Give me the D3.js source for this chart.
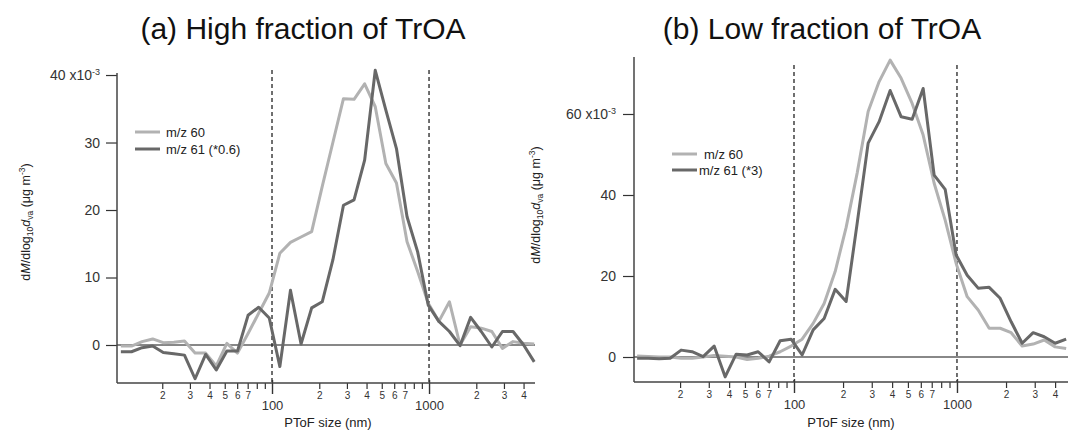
<!DOCTYPE html>
<html><head><meta charset="utf-8">
<script src="https://cdn.jsdelivr.net/npm/d3@7/dist/d3.min.js"></script>
<style>
body{margin:0;background:#fff;}
svg{display:block;font-family:"Liberation Sans",Arial,Helvetica,sans-serif;}
</style>
</head><body>
<svg id="chart" width="1068" height="432"></svg>
<script>
// ---- data ----
const sizes = [10.90,12.74,14.88,17.38,20.30,23.71,27.70,32.36,37.80,44.16,
  51.58,60.26,70.39,82.22,96.05,112.2,131.1,153.1,178.9,208.9,
  244.1,285.1,333.0,389.0,454.5,530.9,620.2,724.4,846.3,988.5,
  1155,1349,1576,1841,2150,2512,2934,3428,4004,4677];

const panelA_mz60 = [-0.15,-0.15,0.5,0.9,0.35,0.4,0.6,-1.2,-1.2,-3.1,
  0.25,-1.2,1.7,4.7,7.7,13.6,15.2,16.0,16.8,23.5,
  30.0,36.5,36.4,38.7,35.3,26.9,24.0,15.3,10.9,6.2,
  3.5,6.4,0,2.7,2.5,2.0,-0.5,0.5,0.25,0.15];
const panelA_mz61 = [-1.0,-1.0,-0.4,-0.15,-1.1,-1.3,-1.5,-5.0,-1.4,-3.7,
  -0.9,-0.9,4.4,5.6,4.0,-3.2,8.1,0.15,5.5,6.4,
  12.6,20.7,21.5,27.4,40.7,34.8,29.1,19.0,13.8,5.9,
  3.5,2.0,-0.1,4.1,2.0,-0.3,2.0,2.0,0,-2.5];
const panelB_mz60 = [0.25,0.1,0,0,-0.3,-0.3,0,0.4,0.2,0,
  -0.6,-0.3,0.2,1.3,2.7,4.4,8.3,13.2,21.1,32.0,
  45.4,60.6,68.0,73.3,68.8,62.6,54.8,42.9,33.8,23.1,
  14.9,11.6,7.1,7.1,6.0,2.7,3.2,4.2,2.5,2.1];
const panelB_mz61 = [-0.3,-0.3,-0.4,-0.3,1.7,1.3,0.1,2.7,-4.9,0.7,
  0.5,1.3,-1.2,4.0,4.4,0.5,6.7,9.5,16.7,13.7,
  33.0,52.8,58.1,65.8,59.3,58.7,66.3,44.9,41.4,25.2,
  20.2,17.0,17.2,14.5,8.7,3.4,6.0,5.0,3.4,4.4];

const minorTicks = [20,30,40,50,60,70,80,90,200,300,400,500,600,700,800,900,2000,3000,4000];
const minorTickLabels = ["2","3","4","5","6","7","","","2","3","4","5","6","7","","","2","3","4"];
const majorTicks = [100,1000];
const majorTickLabels = ["100","1000"];
const dashedAt = [100,1000];

const yTicksA = [0,10,20,30,40];
const yTicksB = [0,20,40,60];

const titles = ["(a) High fraction of TrOA","(b) Low fraction of TrOA"];
const legendA = ["m/z 60","m/z 61 (*0.6)"];
const legendB = ["m/z 60","m/z 61 (*3)"];
const xAxisTitle = "PToF size (nm)";

// ---- styles ----
const colLight = "#b2b2b2", colDark = "#686868";

const svg = d3.select("#chart");

function drawPanel(c) {
  const g = svg.append("g");
  const x = d3.scaleLog().domain(c.xDomain).range(c.xRange);
  const y = d3.scaleLinear().domain(c.yDomain).range(c.yRange);
  const x0 = c.xRange[0], x1 = c.xRange[1];
  const yb = c.yRange[0], yt = c.yRange[1];

  // dashed verticals
  g.selectAll("line.dash").data(dashedAt).join("line")
    .attr("x1", d => x(d)).attr("x2", d => x(d))
    .attr("y1", c.dashTop).attr("y2", yb)
    .attr("stroke", "#333").attr("stroke-width", 1.4)
    .attr("stroke-dasharray", "4,3");

  // zero line
  g.append("line").attr("x1", x0).attr("x2", x1)
    .attr("y1", y(0)).attr("y2", y(0))
    .attr("stroke", c.zeroColor).attr("stroke-width", c.zeroWidth);

  // lines
  const line = d3.line().x((d, i) => x(sizes[i])).y(d => y(d));
  g.append("path").datum(c.s60).attr("d", line)
    .attr("fill", "none").attr("stroke", colLight).attr("stroke-width", 3)
    .attr("stroke-linejoin", "round");
  g.append("path").datum(c.s61).attr("d", line)
    .attr("fill", "none").attr("stroke", colDark).attr("stroke-width", 3)
    .attr("stroke-linejoin", "round");

  // x axis minor
  const axMinor = d3.axisBottom(x).tickValues(minorTicks).tickSize(6).tickPadding(3)
    .tickFormat((d, i) => minorTickLabels[i]);
  const gm = g.append("g").attr("transform", `translate(0,${yb})`).call(axMinor);
  gm.select(".domain").remove();
  gm.selectAll("line").attr("stroke", "#333").attr("stroke-width", 1.2);
  gm.selectAll("text").attr("font-size", 10).attr("fill", "#333")
    .attr("font-family", "Liberation Sans, Arial, sans-serif");

  const axMajor = d3.axisBottom(x).tickValues(majorTicks).tickSize(11).tickPadding(7)
    .tickFormat((d, i) => majorTickLabels[i]);
  const gM = g.append("g").attr("transform", `translate(0,${yb})`).call(axMajor);
  gM.select(".domain").remove();
  gM.selectAll("line").attr("stroke", "#333").attr("stroke-width", 1.4).attr("y1", -3);
  gM.selectAll("text").attr("font-size", 13).attr("fill", "#333")
    .attr("font-family", "Liberation Sans, Arial, sans-serif");

  // y axis
  const ay = d3.axisLeft(y).tickValues(c.yTicks).tickSize(11).tickPadding(c.yPad)
    .tickFormat(d => d);
  const gy = g.append("g").attr("transform", `translate(${x0},0)`).call(ay);
  gy.select(".domain").remove();
  gy.selectAll("line").attr("stroke", "#333").attr("stroke-width", 1.2);
  gy.selectAll("text").attr("font-size", 14).attr("fill", "#333")
    .attr("font-family", "Liberation Sans, Arial, sans-serif");
  const topVal = c.yTicks[c.yTicks.length - 1];
  gy.selectAll(".tick").filter(d => d === topVal).select("text")
    .text(null)
    .call(t => {
      t.append("tspan").text(topVal + " x10");
      t.append("tspan").attr("font-size", 9).attr("dy", "-0.6em").text("-3");
    });

  // axis lines
  g.append("line").attr("x1", x0).attr("x2", x0).attr("y1", yt).attr("y2", yb)
    .attr("stroke", "#444").attr("stroke-width", 1.5);
  g.append("line").attr("x1", x0).attr("x2", x1).attr("y1", yb).attr("y2", yb)
    .attr("stroke", "#444").attr("stroke-width", 1.5);

  // x title
  g.append("text").attr("x", c.xTitleX).attr("y", 427).attr("text-anchor", "middle")
    .attr("font-size", 13).attr("fill", "#222").text(xAxisTitle);

  // y title
  const yt2 = g.append("text")
    .attr("transform", `translate(${c.yTitleX},${c.yTitleY}) rotate(-90)`)
    .attr("text-anchor", "middle").attr("font-size", 12.5).attr("fill", "#222");
  yt2.append("tspan").text("d");
  yt2.append("tspan").attr("font-style", "italic").text("M");
  yt2.append("tspan").text("/dlog");
  yt2.append("tspan").attr("font-size", 8.5).attr("dy", 3).text("10");
  yt2.append("tspan").attr("font-style", "italic").attr("dy", -3).text("d");
  yt2.append("tspan").attr("font-size", 8.5).attr("dy", 3).text("va");
  yt2.append("tspan").attr("dy", -3).text(" (\u03BCg m");
  yt2.append("tspan").attr("font-size", 8.5).attr("dy", -5).text("-3");
  yt2.append("tspan").attr("dy", 5).text(")");

  // legend
  const lg = g.append("g");
  c.legend.forEach((lab, i) => {
    const ly = c.legY[i];
    lg.append("line").attr("x1", c.legX1).attr("x2", c.legX2).attr("y1", ly).attr("y2", ly)
      .attr("stroke", i === 0 ? colLight : colDark).attr("stroke-width", 3);
    lg.append("text").attr("x", c.legTextX[i]).attr("y", ly + 5)
      .attr("font-size", 13).attr("fill", "#222").text(lab);
  });

  // title
  g.append("text").attr("x", c.titleX).attr("y", 39).attr("text-anchor", "middle")
    .attr("font-size", 30).attr("fill", "#111").text(c.title);
}

drawPanel({
  xDomain: [10.3, 4730], xRange: [117, 535],
  yDomain: [-5.63, 40.3], yRange: [383, 73],
  yTicks: yTicksA, yPad: 6, dashTop: 70,
  zeroColor: "#111", zeroWidth: 1,
  s60: panelA_mz60, s61: panelA_mz61,
  xTitleX: 328, yTitleX: 30, yTitleY: 222,
  legend: legendA, legY: [132, 149], legX1: 135, legX2: 160, legTextX: [166, 166],
  title: titles[0], titleX: 303
});
drawPanel({
  xDomain: [10.43, 4800], xRange: [634, 1068],
  yDomain: [-6.17, 74.07], yRange: [382, 57],
  yTicks: yTicksB, yPad: 7, dashTop: 65,
  zeroColor: "#888", zeroWidth: 2,
  s60: panelB_mz60, s61: panelB_mz61,
  xTitleX: 851, yTitleX: 540, yTitleY: 205,
  legend: legendB, legY: [154, 170], legX1: 672, legX2: 697, legTextX: [704, 699],
  title: titles[1], titleX: 822
});
</script>
</body></html>
